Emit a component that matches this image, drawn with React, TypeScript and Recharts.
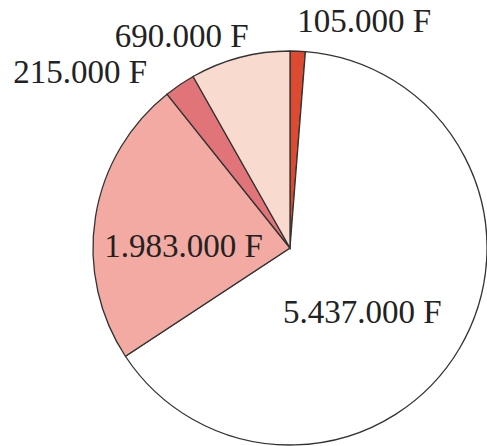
import React from "react";
import { PieChart, Pie, Cell } from "recharts";

const labels = ["105.000 F", "5.437.000 F", "1.983.000 F", "215.000 F", "690.000 F"];
const values = [105000, 5437000, 1983000, 215000, 690000];

const COLORS = ["#dd4a32", "#ffffff", "#f2aaa2", "#e07478", "#f9dacf"];
// label placement relative to each slice's mid angle
const LABEL_R = [1.21, 0.49, 0.54, 1.39, 1.21];
const LABEL_SHIFT = [-15.9, -11, 8, 16, 12.3];

const RAD = Math.PI / 180;

const data = labels.map((name, i) => ({ name, value: values[i] }));

const renderLabel = (props: any) => {
  const { cx, cy, midAngle, outerRadius, index } = props;
  const a = (midAngle + LABEL_SHIFT[index]) * RAD;
  const r = outerRadius * LABEL_R[index];
  const x = cx + r * Math.cos(a);
  const y = cy - r * Math.sin(a);
  return (
    <text
      x={x}
      y={y}
      textAnchor="middle"
      dominantBaseline="central"
      fill="#222"
      fontSize={33}
      fontFamily="'Liberation Serif', serif"
    >
      {labels[index]}
    </text>
  );
};

export default function App() {
  return (
    <div style={{ position: "fixed", left: 0, top: 0, background: "#fff" }}>
      <PieChart width={487} height={446} margin={{ top: 0, right: 0, bottom: 0, left: 0 }}>
        <Pie
          data={data}
          dataKey="value"
          nameKey="name"
          cx={290}
          cy={248}
          outerRadius={197}
          startAngle={90}
          endAngle={-270}
          stroke="#333"
          strokeWidth={1.3}
          label={renderLabel}
          labelLine={false}
          isAnimationActive={false}
        >
          {data.map((_, i) => (
            <Cell key={`cell-${i}`} fill={COLORS[i]} />
          ))}
        </Pie>
      </PieChart>
    </div>
  );
}
